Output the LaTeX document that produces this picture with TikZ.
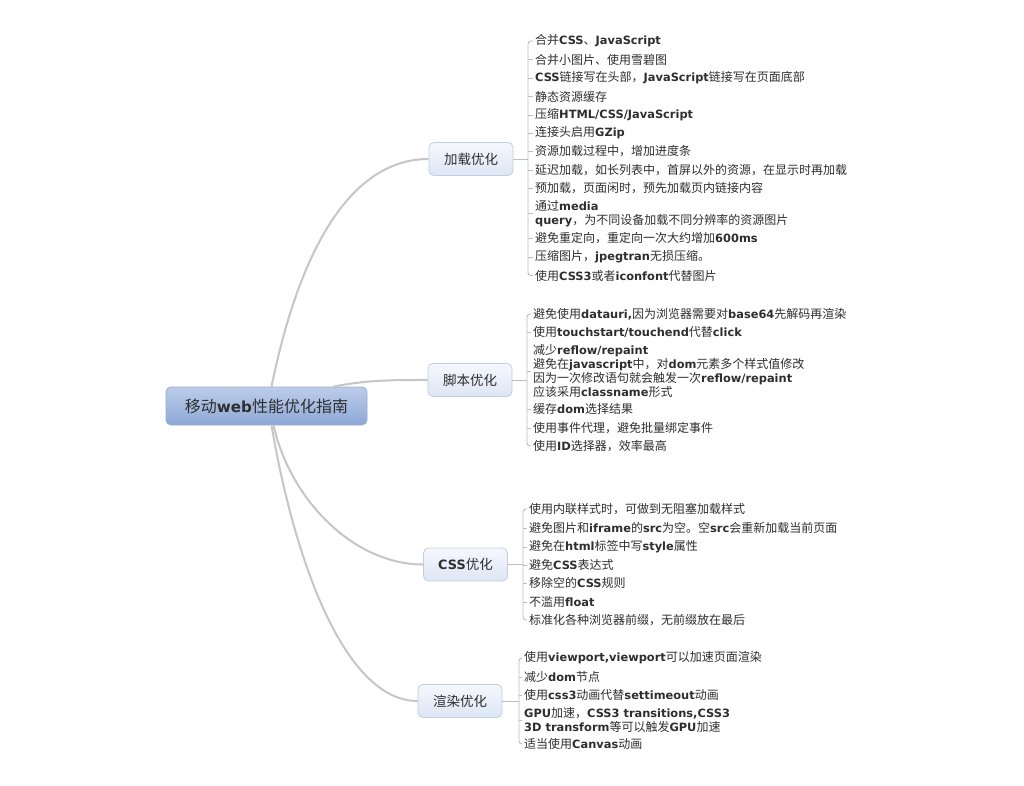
\documentclass[tikz,border=0pt]{standalone}
\usepackage{fontspec}
\setmainfont{Noto Sans CJK SC}
\newfontfamily\enf{DejaVu Sans}[Scale=0.95]
\newcommand\EN[1]{{\enf\bfseries #1}}
\usetikzlibrary{calc}
\definecolor{txt}{HTML}{2E2E2E}
\definecolor{curvegray}{HTML}{C6C6C6}
\definecolor{brgray}{HTML}{BDBDBD}
\definecolor{roottop}{HTML}{BCCDEA}
\definecolor{rootbot}{HTML}{8DA7D5}
\definecolor{rootdraw}{HTML}{9AAECF}
\definecolor{cattop}{HTML}{F5F8FD}
\definecolor{catbot}{HTML}{DDE6F5}
\definecolor{catdraw}{HTML}{C3CDE0}
\tikzset{
  rootbox/.style={draw=rootdraw, line width=0.8pt, rounded corners=5pt, top color=roottop, bottom color=rootbot,
    minimum width=201pt, minimum height=38pt, inner sep=0pt, text=txt, font=\fontsize{16}{18}\selectfont},
  catbox/.style={draw=catdraw, line width=0.8pt, rounded corners=5pt, top color=cattop, bottom color=catbot,
    minimum width=84pt, minimum height=33pt, inner sep=0pt, text=txt, font=\fontsize{13.5}{15}\selectfont},
  item/.style={anchor=west, inner xsep=2pt, inner ysep=1pt, text=txt, align=left,
    font=\fontsize{12}{13.8}\selectfont},
  conn/.style={draw=curvegray, line width=2pt},
  br/.style={draw=brgray, line width=0.9pt},
}
\begin{document}
\begin{tikzpicture}[x=1pt,y=-1pt]
\useasboundingbox (0,0) rectangle (1024,786);
\fill[white] (0,0) rectangle (1024,786);

% root and categories
\node[rootbox] (root) at (266.5,406) {移动\EN{web}性能优化指南};
\node[catbox] (c1) at (471,159) {加载优化};
\node[catbox] (c2) at (470,380) {脚本优化};
\node[catbox] (c3) at (465.5,564.5) {\EN{CSS}优化};
\node[catbox] (c4) at (460,701) {渲染优化};

% curved connectors
\draw[conn] ($(root.north)+(5,0)$) .. controls ++(28,-137) and ($(c1.west)+(-78,0)$) .. (c1.west);
\draw[conn] ($(root.north east)+(-34,0)$) .. controls ++(35,-7) and ($(c2.west)+(-30,0)$) .. (c2.west);
\draw[conn] ($(root.south)+(7,0)$) .. controls ++(17,75) and ($(c3.west)+(-69,0)$) .. (c3.west);
\draw[conn] ($(root.south)+(5,0)$) .. controls ++(23,135) and ($(c4.west)+(-73,0)$) .. (c4.west);

% bracket coordinates
\coordinate (b1) at (528,159);
\coordinate (b2) at (527,380);
\coordinate (b3) at (523,564.5);
\coordinate (b4) at (519,701);

% group 1
\node[item] (a1) at (533,41) {合并\EN{CSS}、\EN{JavaScript}};
\node[item] (a2) at (533,59.5) {合并小图片、使用雪碧图};
\node[item] (a3) at (533,78) {\EN{CSS}链接写在头部，\EN{JavaScript}链接写在页面底部};
\node[item] (a4) at (533,96.5) {静态资源缓存};
\node[item] (a5) at (533,115) {压缩\EN{HTML/CSS/JavaScript}};
\node[item] (a6) at (533,133) {连接头启用\EN{GZip}};
\node[item] (a7) at (533,151.5) {资源加载过程中，增加进度条};
\node[item] (a8) at (533,170) {延迟加载，如长列表中，首屏以外的资源，在显示时再加载};
\node[item] (a9) at (533,188) {预加载，页面闲时，预先加载页内链接内容};
\node[item] (a10) at (533,213.5) {通过\EN{media}\\\EN{query}，为不同设备加载不同分辨率的资源图片};
\node[item] (a11) at (533,238.5) {避免重定向，重定向一次大约增加\EN{600ms}};
\node[item] (a12) at (533,257) {压缩图片，\EN{jpegtran}无损压缩。};
\node[item] (a13) at (533,275.5) {使用\EN{CSS3}或者\EN{iconfont}代替图片};

% group 2
\node[item] (s1) at (531,314) {避免使用\EN{datauri,}因为浏览器需要对\EN{base64}先解码再渲染};
\node[item] (s2) at (531,332) {使用\EN{touchstart/touchend}代替\EN{click}};
\node[item] (s3) at (531,371) {减少\EN{reflow/repaint}\\避免在\EN{javascript}中，对\EN{dom}元素多个样式值修改\\因为一次修改语句就会触发一次\EN{reflow/repaint}\\应该采用\EN{classname}形式};
\node[item] (s4) at (531,409) {缓存\EN{dom}选择结果};
\node[item] (s5) at (531,428) {使用事件代理，避免批量绑定事件};
\node[item] (s6) at (531,446) {使用\EN{ID}选择器，效率最高};

% group 3
\node[item] (k1) at (527,509) {使用内联样式时，可做到无阻塞加载样式};
\node[item] (k2) at (527,528) {避免图片和\EN{iframe}的\EN{src}为空。空\EN{src}会重新加载当前页面};
\node[item] (k3) at (527,547) {避免在\EN{html}标签中写\EN{style}属性};
\node[item] (k4) at (527,565) {避免\EN{CSS}表达式};
\node[item] (k5) at (527,583) {移除空的\EN{CSS}规则};
\node[item] (k6) at (527,602) {不滥用\EN{float}};
\node[item] (k7) at (527,620) {标准化各种浏览器前缀，无前缀放在最后};

% group 4
\node[item] (r1) at (522,658) {使用\EN{viewport,viewport}可以加速页面渲染};
\node[item] (r2) at (522,677) {减少\EN{dom}节点};
\node[item] (r3) at (522,695) {使用\EN{css3}动画代替\EN{settimeout}动画};
\node[item] (r4) at (522,720) {\EN{GPU}加速，\EN{CSS3 transitions,CSS3}\\\EN{3D transform}等可以触发\EN{GPU}加速};
\node[item] (r5) at (522,744) {适当使用\EN{Canvas}动画};

% category to bracket
\draw[br] (c1.east) -- (b1);
\draw[br] (c2.east) -- (b2);
\draw[br] (c3.east) -- (b3);
\draw[br] (c4.east) -- (b4);

% brackets
\draw[br, rounded corners=3pt] (a1.west) -| (b1) |- (a13.west);
\foreach \n in {a2,a3,a4,a5,a6,a7,a8,a9,a10,a11,a12} \draw[br] (\n.west) -- (\n.west -| b1);
\draw[br, rounded corners=3pt] (s1.west) -| (b2) |- (s6.west);
\foreach \n in {s2,s3,s4,s5} \draw[br] (\n.west) -- (\n.west -| b2);
\draw[br, rounded corners=3pt] (k1.west) -| (b3) |- (k7.west);
\foreach \n in {k2,k3,k4,k5,k6} \draw[br] (\n.west) -- (\n.west -| b3);
\draw[br, rounded corners=3pt] (r1.west) -| (b4) |- (r5.west);
\foreach \n in {r2,r3,r4} \draw[br] (\n.west) -- (\n.west -| b4);
\end{tikzpicture}
\end{document}
